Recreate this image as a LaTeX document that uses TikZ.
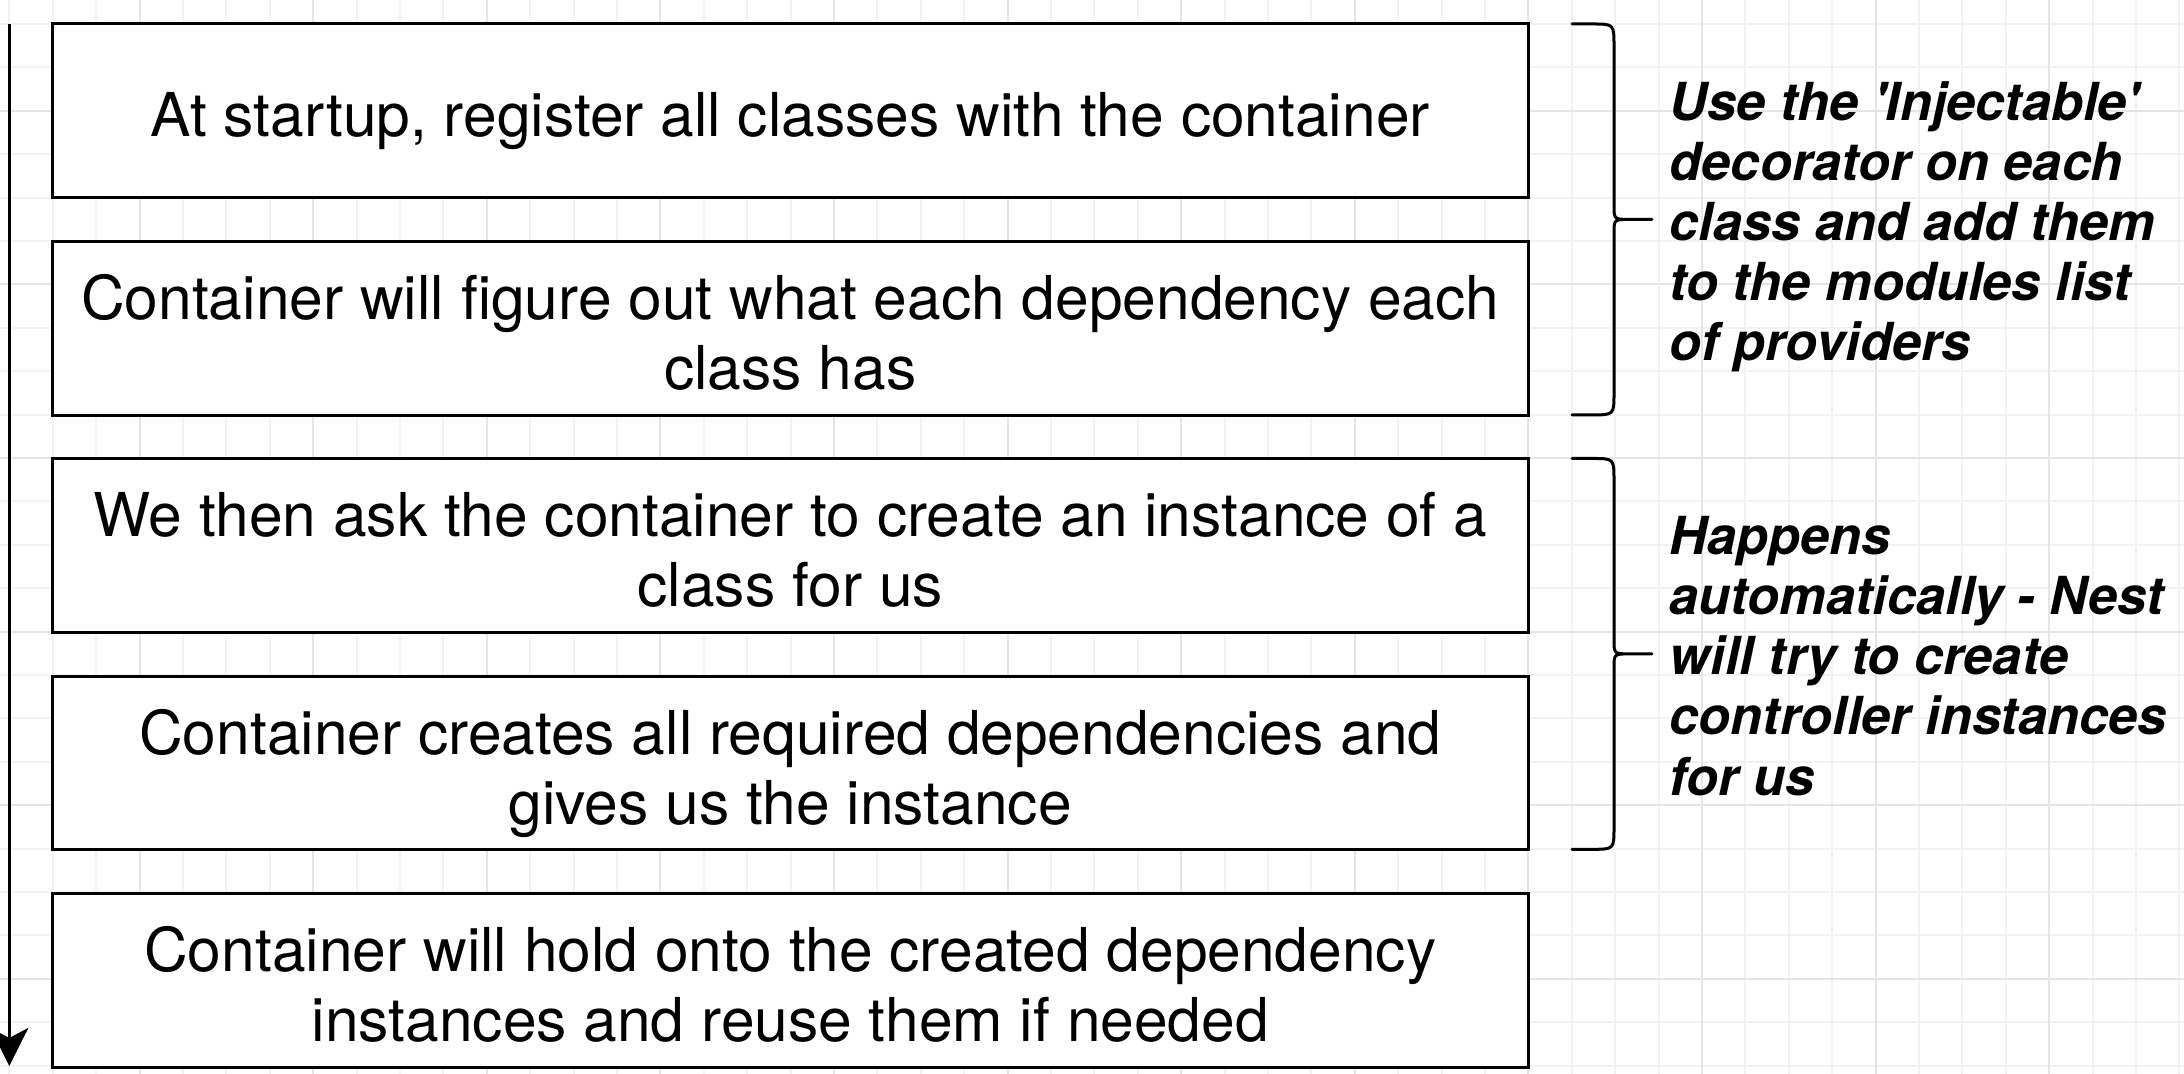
\documentclass[tikz,border=0pt]{standalone}
\usepackage{fontspec}
\setmainfont{TeX Gyre Heros}
\usepackage{tikz}
\usetikzlibrary{arrows.meta,positioning}

\begin{document}
\begin{tikzpicture}[x=0.01cm,y=-0.01cm,
  box/.style={draw,fill=white,line width=0.03cm,minimum width=14.755cm,minimum height=1.736cm,
    inner sep=0pt,align=center,font=\fontsize{17.2}{19.9}\selectfont,
    execute at begin node={\rule{0pt}{#1}},
    execute at end node={\rule[-0.156cm]{0pt}{0.156cm}}},
  box/.default=1.38cm,
  note/.style={anchor=west,inner sep=0pt,align=left,
    font=\fontsize{14.9}{17.1}\selectfont\bfseries\itshape,
    execute at begin node={\rule{0pt}{2.9cm}},
    execute at end node={\rule[-0.124cm]{0pt}{0.124cm}}},
  brace/.style={line width=0.03cm,line cap=round},
  minorgrid/.style={draw=black!5,line width=0.02cm},
  majorgrid/.style={draw=black!10,line width=0.02cm},
  timeline/.style={line width=0.03cm,-{Stealth[length=0.38cm,width=0.38cm,inset=0.1cm]}},
  node distance=0.407cm]
  \useasboundingbox (0,0) rectangle (2184,1074);
  \fill[white] (0,0) rectangle (2184,1074);
  \foreach \k in {0,...,50} \draw[minorgrid] (9.3+43.4*\k,0) -- (9.3+43.4*\k,1074);
  \foreach \k in {0,...,24} \draw[minorgrid] (0,24+43.4*\k) -- (2184,24+43.4*\k);
  \foreach \k in {3,7,...,47} \draw[majorgrid] (9.3+43.4*\k,0) -- (9.3+43.4*\k,1074);
  \foreach \k in {2,6,...,22} \draw[majorgrid] (0,24+43.4*\k) -- (2184,24+43.4*\k);

  \node[box=0.68cm] (b1) at (790.3,110.8) {At startup, register all classes with the container};
  \node[box,below=of b1] (b2) {Container will figure out what each dependency each\\class has};
  \node[box,below=of b2] (b3) {We then ask the container to create an instance of a\\class for us};
  \node[box,below=of b3] (b4) {Container creates all required dependencies and\\gives us the instance};
  \node[box,below=of b4] (b5) {Container will hold onto the created dependency\\instances and reuse them if needed};

  \coordinate (t0) at (9.3,24);
  \coordinate (t1) at (9.3,1066);
  \draw[timeline] (t0) -- (t1);

  \foreach \t/\m/\b in {24/219.4/414.9,458.5/653.9/849.3}
    \draw[brace] (1572,\t) -- (1592,\t) .. controls (1614,\t) .. (1614,\t+22) -- (1614,\m-14)
      .. controls (1614,\m) .. (1630,\m) -- (1652,\m) (1630,\m) .. controls (1614,\m) .. (1614,\m+14)
      -- (1614,\b-22) .. controls (1614,\b) .. (1592,\b) -- (1572,\b);

  \node[note] (n1) at (1669,221.7) {Use the \textquotesingle Injectable\textquotesingle\\decorator on each\\class and add them\\to the modules list\\of providers};
  \node[note] (n2) at (1669,656.2) {Happens\\automatically - Nest\\will try to create\\controller instances\\for us};
\end{tikzpicture}
\end{document}
